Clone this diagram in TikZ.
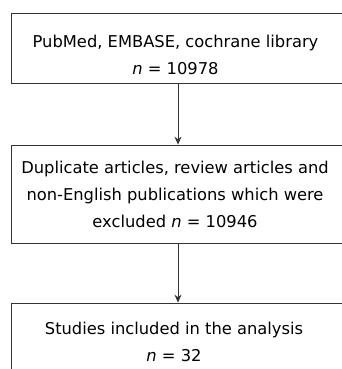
\documentclass[tikz,border=0pt]{standalone}
\usepackage{fontspec}
\setmainfont{DejaVu Sans}
\usetikzlibrary{arrows.meta}
\begin{document}
\begin{tikzpicture}[x=1pt,y=-1pt,
  boxshape/.style={draw=black!80, line width=0.8pt, rectangle, inner sep=0pt},
  boxtext/.style={align=center, inner sep=0pt, font=\fontsize{16.3}{27}\selectfont},
  flow/.style={draw=black!80, line width=0.8pt, -{Stealth[length=8pt,width=7pt]}}]
\useasboundingbox (0,0) rectangle (342,369);
\clip (0,0) rectangle (342,369);
\fill[white] (0,0) rectangle (342,369);
\node[boxshape, minimum width=335pt, minimum height=70pt] (b1) at (178.5,48) {};
\node[boxshape, minimum width=335pt, minimum height=98pt] (b2) at (178.5,194) {};
\node[boxshape, minimum width=335pt, minimum height=100pt] (b3) at (178.5,353) {};
\node[boxtext] (t1) at (175.5,55) {PubMed, EMBASE, cochrane library\\\textit{n} = 10978};
\node[boxtext] (t2) at (175,194.5) {Duplicate articles, review articles and\\non-English publications which were\\excluded \textit{n} = 10946};
\node[boxtext] (t3) at (174,342) {Studies included in the analysis\\\textit{n} = 32};
\draw[flow] (b1.south -| 178,0) -- (b2.north -| 178,0);
\draw[flow] (b2.south -| 178,0) -- (b3.north -| 178,0);
\end{tikzpicture}
\end{document}
